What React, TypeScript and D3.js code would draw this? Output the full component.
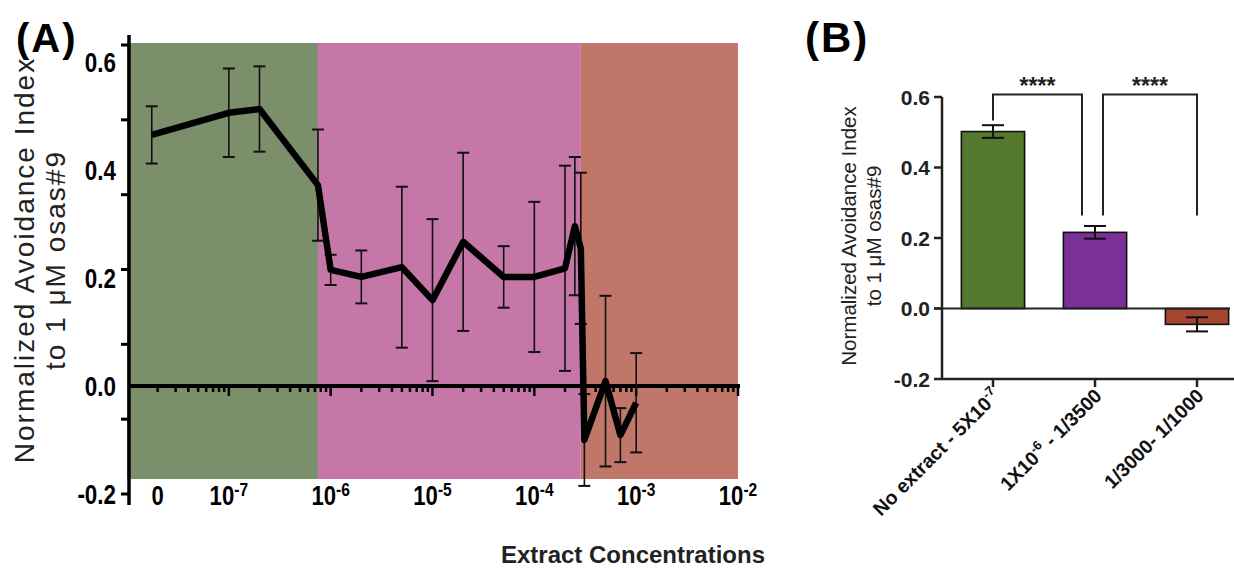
import React from 'react';
import * as d3 from 'd3';

// ---- panel A: avoidance index across extract concentrations ----
const concentrations = [1.75e-8, 1e-7, 2e-7, 7.5e-7, 1e-6, 2e-6, 5e-6, 1e-5, 2e-5, 5e-5, 1e-4, 2e-4, 2.5e-4, 2.86e-4, 3.1e-4, 5e-4, 7e-4, 1e-3];
const avoidance = [0.465, 0.506, 0.513, 0.372, 0.215, 0.202, 0.22, 0.159, 0.267, 0.202, 0.202, 0.218, 0.296, 0.255, -0.1, 0.009, -0.091, -0.031];
const avoidanceSem = [0.053, 0.082, 0.079, 0.103, 0.028, 0.049, 0.149, 0.15, 0.165, 0.057, 0.139, 0.19, 0.128, 0.14, 0.085, 0.158, 0.05, 0.092];

const regionEdges = [1e-8, 7.5e-7, 2.86e-4, 1e-2];
const regionColors = ['#7a8f6a', '#c577a7', '#c0776a'];

const yLabelsA = [0.6, 0.4, 0.2, 0.0, -0.2];
const decadeExps = [-7, -6, -5, -4, -3, -2];
const zeroTickAt = 2e-8;

// ---- panel B: grouped means ----
const groups = ['none', 'low', 'high'];
const groupLabels = [
  { base: 'No extract - 5X10', sup: '-7', tail: '' },
  { base: '1X10', sup: '-6', tail: ' - 1/3500' },
  { base: '1/3000- 1/1000', sup: '', tail: '' },
];
const groupMeans = [0.502, 0.216, -0.045];
const groupSem = [0.018, 0.018, 0.02];
const groupColors = ['#54782d', '#7a2f99', '#a3462f'];
const yTicksB = [0.6, 0.4, 0.2, 0.0, -0.2];
const brackets = [
  { from: 0, to: 1, top: 0.607, leftEnd: 0.533, rightEnd: 0.264, label: '****' },
  { from: 1, to: 2, top: 0.607, leftEnd: 0.264, rightEnd: 0.264, label: '****' },
];

const sans = "'Liberation Sans', Arial, sans-serif";

export default function App() {
  // A scales
  const xA = d3.scaleLog().domain([1e-8, 1e-2]).range([127, 738]);
  const yA = d3.scaleLinear().domain([-0.2, 0.6]).range([494, 62]);
  const yTickA = d3.scaleLinear().domain([0, 6]).range([494, 45]);
  const y0 = yA(0);
  const line = d3
    .line<number>()
    .x((_, i) => xA(concentrations[i]))
    .y((d) => yA(d));
  const logTicks = xA.ticks().filter((t) => t > 1.5e-8);
  const isMajor = (t: number) => Math.abs(Math.log10(t) - Math.round(Math.log10(t))) < 1e-6;

  // B scales
  const xB = d3.scaleBand<string>().domain(groups).range([942, 1248]).paddingInner(0.38).paddingOuter(0.19);
  const yB = d3.scaleLinear().domain([-0.2, 0.6]).range([379, 97]);
  const cx = (i: number) => (xB(groups[i]) as number) + xB.bandwidth() / 2;

  return (
    <svg width={1234} height={569} style={{ position: 'absolute', left: 0, top: 0, background: '#fff' }}>
      {/* ================= PANEL A ================= */}
      <text x={16} y={52} fontFamily={sans} fontWeight="bold" fontSize={40} letterSpacing={2}>(A)</text>

      {regionColors.map((c, i) => (
        <rect
          key={i}
          x={xA(regionEdges[i])}
          y={43}
          width={xA(regionEdges[i + 1]) - xA(regionEdges[i])}
          height={479 - 43}
          fill={c}
        />
      ))}

      {/* zero line with log ticks */}
      <line x1={129} x2={740} y1={y0} y2={y0} stroke="#000" strokeWidth={4} />
      {logTicks.map((t, i) => (
        <line key={i} x1={xA(t)} x2={xA(t)} y1={y0} y2={y0 + (isMajor(t) ? 10 : 6)} stroke="#000" strokeWidth={2.5} />
      ))}

      {/* error bars */}
      {avoidance.map((v, i) => {
        const x = xA(concentrations[i]);
        const top = yA(v + avoidanceSem[i]);
        const bot = yA(v - avoidanceSem[i]);
        return (
          <g key={i} stroke="#111">
            <line x1={x} x2={x} y1={top} y2={bot} strokeWidth={1.6} />
            <line x1={x - 6} x2={x + 6} y1={top} y2={top} strokeWidth={2} />
            <line x1={x - 6} x2={x + 6} y1={bot} y2={bot} strokeWidth={2} />
          </g>
        );
      })}
      <path d={line(avoidance) || ''} fill="none" stroke="#000" strokeWidth={6.5} strokeLinejoin="round" />

      {/* y axis A */}
      <line x1={129} x2={129} y1={35} y2={505} stroke="#000" strokeWidth={3.5} />
      {d3.range(7).map((k) => (
        <line key={k} x1={121} x2={129} y1={yTickA(k)} y2={yTickA(k)} stroke="#000" strokeWidth={3} />
      ))}
      {yLabelsA.map((v) => (
        <text
          key={v}
          transform={`translate(116,${yA(v)}) scale(0.8,1)`}
          dy="0.36em"
          textAnchor="end"
          fontFamily={sans}
          fontWeight="bold"
          fontSize={28}
        >
          {v.toFixed(1)}
        </text>
      ))}

      {/* x labels A */}
      <text transform={`translate(${xA(zeroTickAt)},505) scale(0.82,1)`} textAnchor="middle" fontFamily={sans} fontWeight="bold" fontSize={27}>0</text>
      {decadeExps.map((e) => (
        <text
          key={e}
          transform={`translate(${xA(Math.pow(10, e))},505) scale(0.82,1)`}
          textAnchor="middle"
          fontFamily={sans}
          fontWeight="bold"
          fontSize={27}
        >
          10<tspan fontSize={19} dy={-9}>{String(e)}</tspan>
        </text>
      ))}
      <text x={633} y={563} textAnchor="middle" fontFamily={sans} fontWeight="bold" fontSize={24} fill="#222">
        Extract Concentrations
      </text>

      <g transform="translate(34,260) rotate(-90)" fontFamily={sans} fontSize={28} letterSpacing={2} fill="#222" textAnchor="middle">
        <text x={0} y={0}>Normalized Avoidance Index</text>
        <text x={0} y={31}>to 1 μM osas#9</text>
      </g>

      {/* ================= PANEL B ================= */}
      <text x={805} y={52} fontFamily={sans} fontWeight="bold" fontSize={42} letterSpacing={2}>(B)</text>

      <g transform="translate(856,236) rotate(-90)" fontFamily={sans} fontSize={20.5} fill="#222" textAnchor="middle">
        <text x={0} y={0}>Normalized Avoidance Index</text>
        <text x={0} y={25}>to 1 μM osas#9</text>
      </g>

      {/* bars */}
      {groups.map((g, i) => {
        const v = groupMeans[i];
        return (
          <rect
            key={g}
            x={xB(g)}
            y={Math.min(yB(v), yB(0))}
            width={xB.bandwidth()}
            height={Math.abs(yB(v) - yB(0))}
            fill={groupColors[i]}
            stroke="#111"
            strokeWidth={1.6}
          />
        );
      })}
      <line x1={934} x2={1230} y1={yB(0)} y2={yB(0)} stroke="#222" strokeWidth={2.2} />
      {groups.map((g, i) => {
        const x = cx(i);
        const top = yB(groupMeans[i] + groupSem[i]);
        const bot = yB(groupMeans[i] - groupSem[i]);
        return (
          <g key={g} stroke="#111" strokeWidth={2}>
            <line x1={x} x2={x} y1={top} y2={bot} />
            <line x1={x - 11} x2={x + 11} y1={top} y2={top} />
            <line x1={x - 11} x2={x + 11} y1={bot} y2={bot} />
          </g>
        );
      })}

      {/* significance brackets */}
      {brackets.map((b, i) => {
        const xl = cx(b.from) + (i === 0 ? 0 : 8);
        const xr = cx(b.to) - (i === 0 ? 13 : 0);
        const yt = yB(b.top);
        return (
          <g key={i}>
            <path
              d={`M${xl},${yB(b.leftEnd)}V${yt}H${xr}V${yB(b.rightEnd)}`}
              fill="none"
              stroke="#222"
              strokeWidth={2}
            />
            <text x={(xl + xr) / 2} y={yt - 1} textAnchor="middle" fontFamily={sans} fontWeight="bold" fontSize={23} fill="#222">
              {b.label}
            </text>
          </g>
        );
      })}

      {/* y axis B */}
      <line x1={942} x2={942} y1={yB(0.6)} y2={yB(-0.2)} stroke="#222" strokeWidth={2.5} />
      {yTicksB.map((v) => (
        <g key={v}>
          <line x1={934} x2={942} y1={yB(v)} y2={yB(v)} stroke="#222" strokeWidth={2.5} />
          <text x={930} y={yB(v)} dy="0.36em" textAnchor="end" fontFamily={sans} fontWeight="bold" fontSize={21} fill="#222">
            {v.toFixed(1)}
          </text>
        </g>
      ))}

      {/* x axis B */}
      <line x1={942} x2={1234} y1={yB(-0.2)} y2={yB(-0.2)} stroke="#222" strokeWidth={2.5} />
      {groups.map((g, i) => (
        <g key={g}>
          <line x1={cx(i)} x2={cx(i)} y1={yB(-0.2)} y2={yB(-0.2) + 8} stroke="#222" strokeWidth={2.5} />
          <text
            transform={`translate(${cx(i) + 8},${yB(-0.2) + 18}) rotate(-45)`}
            textAnchor="end"
            fontFamily={sans}
            fontWeight="bold"
            fontSize={19.5}
            fill="#111"
          >
            {groupLabels[i].base}
            {groupLabels[i].sup && <tspan fontSize={13} dy={-8}>{groupLabels[i].sup}</tspan>}
            {groupLabels[i].tail && <tspan dy={8}>{groupLabels[i].tail}</tspan>}
          </text>
        </g>
      ))}
    </svg>
  );
}
